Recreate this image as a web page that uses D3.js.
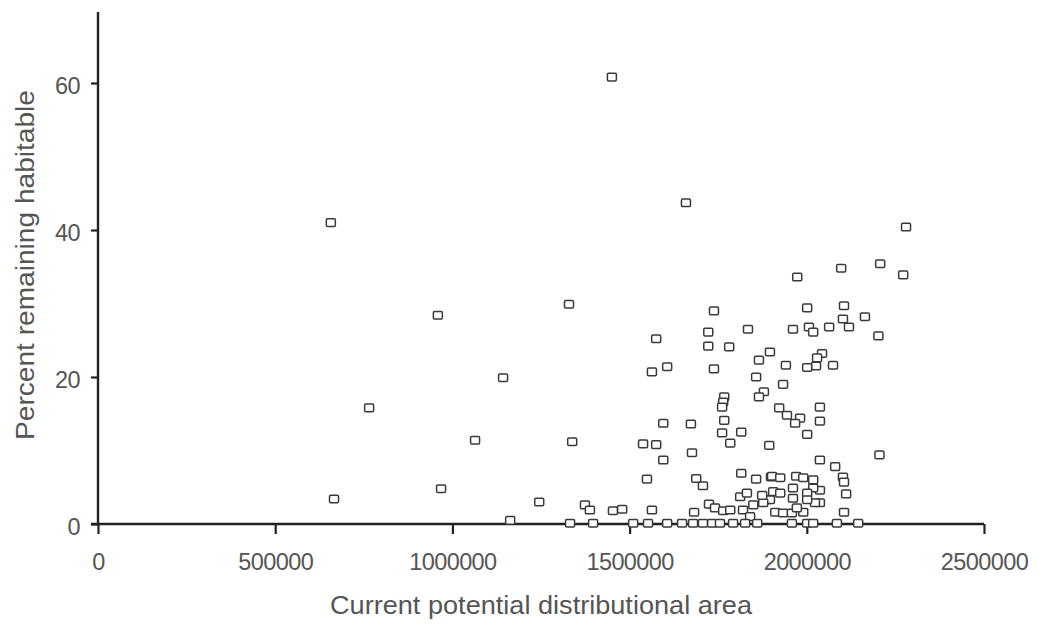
<!DOCTYPE html>
<html>
<head>
<meta charset="utf-8">
<script src="https://cdn.jsdelivr.net/npm/d3@7"></script>
<style>
  body { margin: 0; background: #fff; }
  svg text { font-family: "Liberation Sans", Arial, sans-serif; fill: #555; }
</style>
</head>
<body>
<svg id="chart"></svg>
<script>
const WIDTH = 1039;
const HEIGHT = 625;

// current potential distributional area
const areaValues = [
  657000, 666000, 765000, 959000, 968000, 1064000, 1143000, 1163000, 1245000, 1329000,
  1338000, 1450000, 1659000, 2280000, 2272000, 2207000, 2202000, 2205000, 2097000, 1973000,
  1738000, 1834000, 1722000, 1722000, 1781000, 1575000, 1896000, 1865000, 1606000, 1563000,
  1738000, 1857000, 1767000, 1764000, 1761000, 1879000, 1865000, 1933000, 1922000, 1767000,
  1595000, 1673000, 1761000, 1815000, 1784000, 1894000, 1538000, 1575000, 1676000, 1595000,
  1815000, 1857000, 1899000, 1549000, 1688000, 1707000, 1374000, 1388000, 1453000, 1479000,
  1563000, 1682000, 1724000, 1741000, 1764000, 1784000, 1812000, 1831000, 1820000, 1849000,
  1840000, 1888000, 1905000, 1911000,
  1332000, 1397000, 1510000, 1552000, 1606000, 1648000, 1679000, 1707000, 1733000, 1755000,
  1792000, 1826000, 1860000, 1958000, 2001000, 2018000, 2085000, 2145000,
  2001000, 2105000, 2164000, 2102000, 2119000, 2063000, 2006000, 2018000, 1961000, 2043000,
  2029000, 2026000, 2001000, 2074000, 1941000, 1944000, 1981000, 1967000, 2037000, 2037000,
  2001000, 2037000, 2080000, 2102000, 2105000, 2111000, 2105000, 1902000, 1925000, 1970000,
  1990000, 2018000, 2037000, 2018000, 2001000, 1961000, 1961000, 1925000, 1896000, 2037000,
  2023000, 2001000, 1933000, 1958000, 1990000, 1972000, 1877000, 1874000
];

// percent remaining habitable
const percentValues = [
  41.0, 3.4, 15.8, 28.4, 4.8, 11.4, 19.9, 0.5, 3.0, 29.9,
  11.2, 60.8, 43.7, 40.4, 33.9, 35.4, 25.6, 9.4, 34.8, 33.6,
  29.0, 26.5, 26.1, 24.2, 24.1, 25.2, 23.4, 22.3, 21.4, 20.7,
  21.1, 20.0, 17.3, 16.6, 15.9, 18.0, 17.3, 19.0, 15.8, 14.1,
  13.7, 13.6, 12.4, 12.5, 11.0, 10.7, 10.9, 10.8, 9.7, 8.7,
  6.9, 6.1, 6.4, 6.1, 6.2, 5.2, 2.6, 1.9, 1.8, 2.0,
  1.9, 1.6, 2.7, 2.2, 1.8, 1.9, 3.7, 4.2, 1.9, 2.6,
  1.0, 3.3, 4.4, 1.6,
  0.1, 0.1, 0.1, 0.1, 0.1, 0.1, 0.1, 0.1, 0.1, 0.1,
  0.1, 0.1, 0.1, 0.1, 0.1, 0.1, 0.1, 0.1,
  29.4, 29.7, 28.2, 27.9, 26.8, 26.8, 26.8, 26.1, 26.5, 23.2,
  22.6, 21.5, 21.3, 21.6, 21.6, 14.8, 14.4, 13.7, 15.9, 14.0,
  12.2, 8.7, 7.8, 6.4, 5.7, 4.1, 1.6, 6.5, 6.3, 6.5,
  6.3, 6.0, 4.6, 4.9, 4.2, 4.9, 3.5, 4.2, 3.3, 2.9,
  2.9, 3.3, 1.5, 1.5, 1.6, 2.2, 2.9, 3.9
];

const xTicks = [0, 500000, 1000000, 1500000, 2000000, 2500000];
const yTicks = [0, 20, 40, 60];

const xTitle = "Current potential distributional area";
const yTitle = "Percent remaining habitable";

const svg = d3.select('#chart')
  .attr('width', WIDTH)
  .attr('height', HEIGHT);

const x = d3.scaleLinear().domain([0, 2500000]).range([98, 984]);
const y = d3.scaleLinear().domain([0, 70]).range([524, 9.5]);

const points = areaValues.map((a, i) => ({ area: a, pct: percentValues[i] }));

// axes
const xAxis = svg.append('g')
  .attr('transform', `translate(0,${y(0)})`)
  .call(d3.axisBottom(x).tickValues(xTicks).tickFormat(d3.format('d')).tickSizeOuter(0).tickSize(10).tickPadding(19));

const yAxis = svg.append('g')
  .attr('transform', `translate(${x(0)},0)`)
  .call(d3.axisLeft(y).tickValues(yTicks).tickSizeOuter(0).tickSize(7).tickPadding(11));

[xAxis, yAxis].forEach(g => {
  g.select('.domain').attr('stroke', '#222').attr('stroke-width', 2.4);
  g.selectAll('.tick line').attr('stroke', '#222').attr('stroke-width', 2.2);
  g.selectAll('.tick text')
    .attr('fill', '#555')
    .style('font-size', '23.5px')
    .style('letter-spacing', '-0.6px')
    .style('font-family', '"Liberation Sans", Arial, sans-serif');
});
yAxis.selectAll('.tick text').attr('dy', '0.45em');
// y axis line reaches up to the top
yAxis.select('.domain').attr('d', `M0,${y(0)}V12`);
xAxis.select('.domain').attr('d', `M${x(0) - 7},0H${x(2500000)}`);

// markers
svg.append('g')
  .selectAll('rect')
  .data(points)
  .enter()
  .append('rect')
  .attr('x', d => x(d.area) - 4.5)
  .attr('y', d => y(d.pct) - 3.8)
  .attr('width', 9)
  .attr('height', 7.6)
  .attr('rx', 1.2)
  .attr('fill', '#fff')
  .attr('stroke', '#3a3a3a')
  .attr('stroke-width', 1.5);

// titles
svg.append('text')
  .attr('x', 541)
  .attr('y', 614)
  .attr('text-anchor', 'middle')
  .attr('textLength', 422)
  .attr('lengthAdjust', 'spacingAndGlyphs')
  .style('font-size', '25px')
  .text(xTitle);

svg.append('text')
  .attr('transform', 'translate(34,265) rotate(-90)')
  .attr('text-anchor', 'middle')
  .attr('textLength', 350)
  .attr('lengthAdjust', 'spacingAndGlyphs')
  .style('font-size', '25px')
  .text(yTitle);
</script>
</body>
</html>
